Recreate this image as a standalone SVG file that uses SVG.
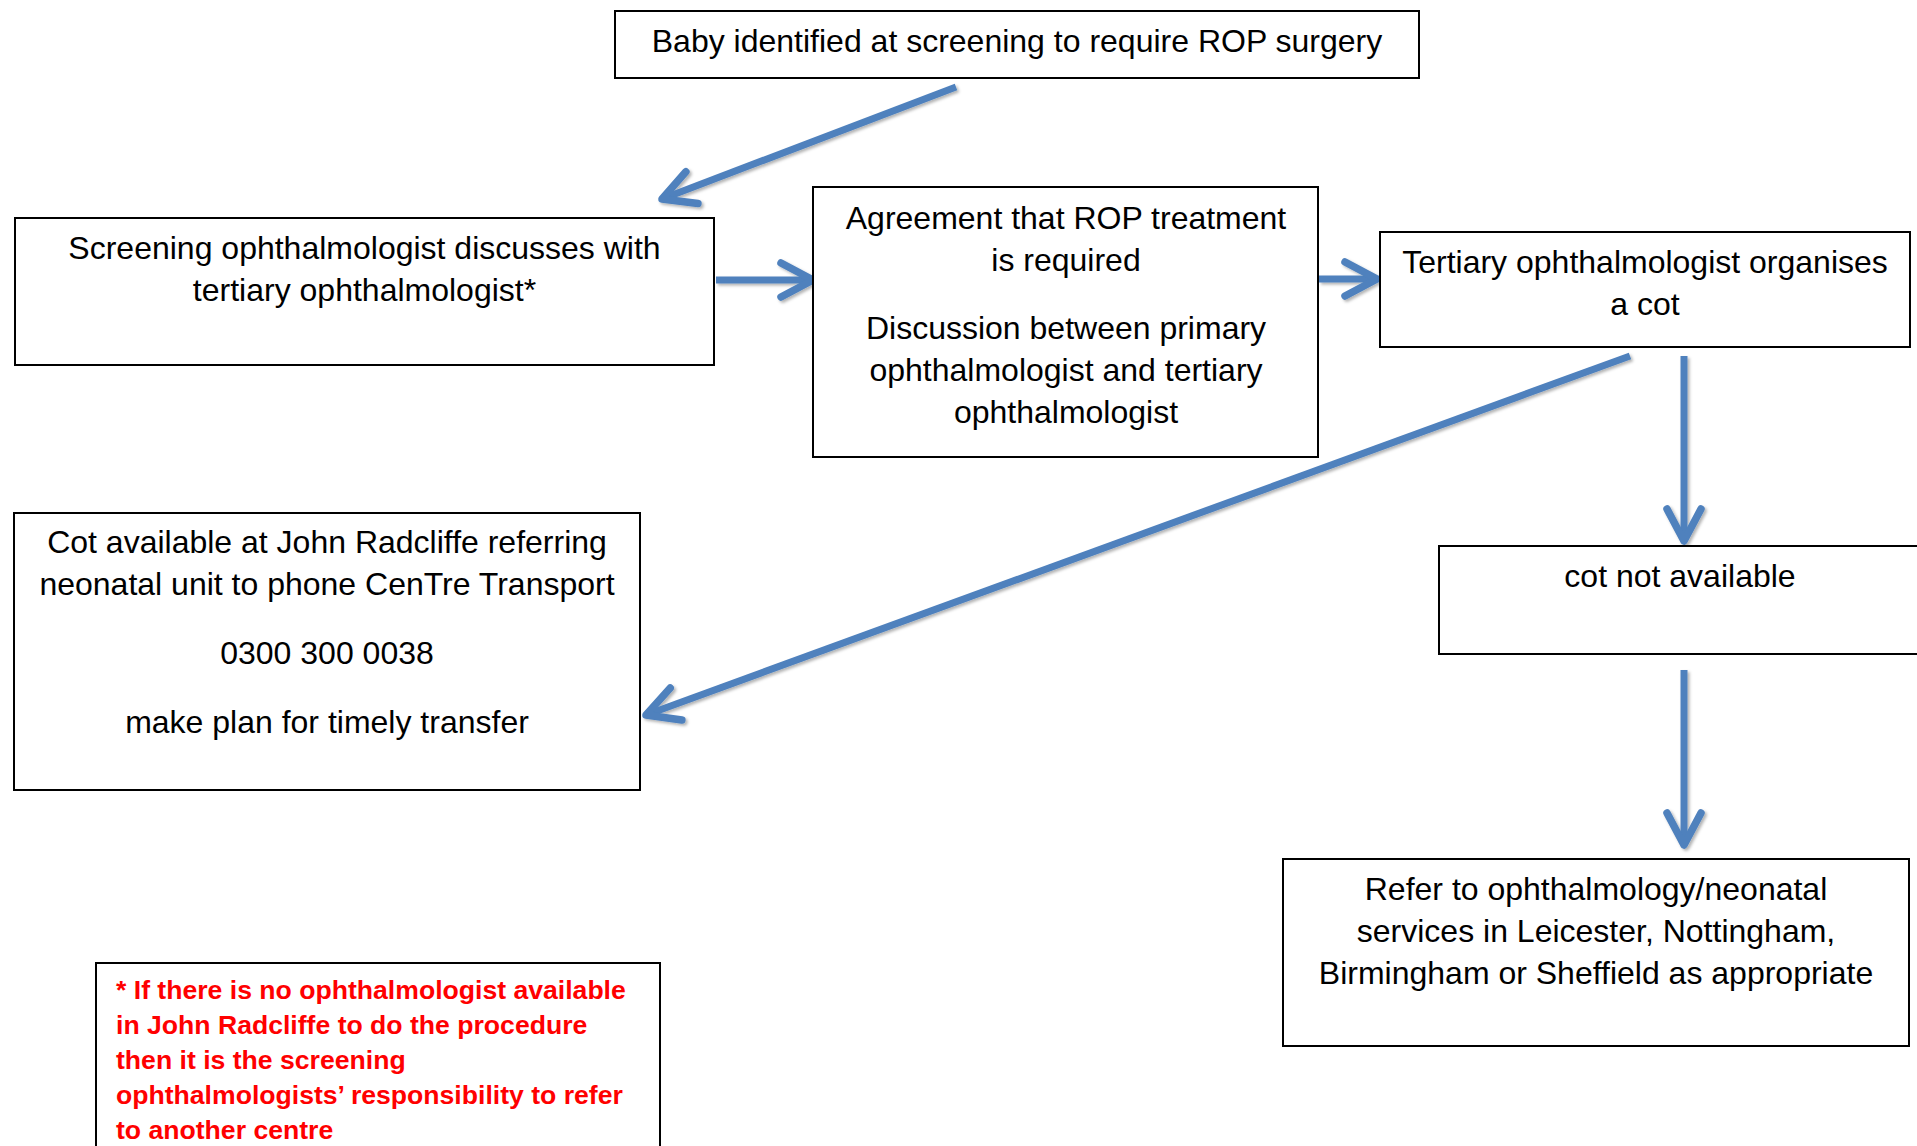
<svg xmlns="http://www.w3.org/2000/svg" width="1917" height="1146" viewBox="0 0 1917 1146">
<style>
.box{fill:#fff;stroke:#000;stroke-width:2}
.t{font-family:"Liberation Sans",Arial,sans-serif;font-size:32px;fill:#000;text-anchor:middle}
.r{font-family:"Liberation Sans",Arial,sans-serif;font-size:26.6px;font-weight:bold;fill:#ff0000}
.c{fill:none;stroke:#4f81bd;stroke-width:7;marker-end:url(#ah)}
</style>
<defs>
<marker id="ah" markerUnits="userSpaceOnUse" markerWidth="80" markerHeight="80" refX="0" refY="0" orient="auto" overflow="visible">
<path d="M -32 -17 L 0 0 L -32 17" fill="none" stroke="#4f81bd" stroke-width="7.5" stroke-linecap="round" stroke-linejoin="round"/>
</marker>
<filter id="sh" x="-10%" y="-10%" width="120%" height="120%">
<feDropShadow dx="2" dy="2" stdDeviation="1.5" flood-color="#000" flood-opacity="0.3"/>
</filter>
</defs>
<rect width="1917" height="1146" fill="#fff"/>
<g id="connectors" filter="url(#sh)">
<line class="c" x1="956" y1="87" x2="662" y2="199"/>
<line class="c" x1="716" y1="280" x2="813" y2="280"/>
<line class="c" x1="1319" y1="279" x2="1377" y2="279"/>
<line class="c" x1="1630" y1="356" x2="646" y2="715"/>
<line class="c" x1="1684" y1="356" x2="1684" y2="541"/>
<line class="c" x1="1684" y1="670" x2="1684" y2="845"/>
</g>
<g id="n-baby">
<rect class="box" x="615" y="11" width="804" height="67"/>
<text class="t" x="1017" y="52">Baby identified at screening to require ROP surgery</text>
</g>
<g id="n-screening">
<rect class="box" x="15" y="218" width="699" height="147"/>
<text class="t" x="364.5" y="259">Screening ophthalmologist discusses with</text>
<text class="t" x="364.5" y="301">tertiary ophthalmologist*</text>
</g>
<g id="n-agreement">
<rect class="box" x="813" y="187" width="505" height="270"/>
<text class="t" x="1066" y="229">Agreement that ROP treatment</text>
<text class="t" x="1066" y="271">is required</text>
<text class="t" x="1066" y="339">Discussion between primary</text>
<text class="t" x="1066" y="381">ophthalmologist and tertiary</text>
<text class="t" x="1066" y="423">ophthalmologist</text>
</g>
<g id="n-tertiary">
<rect class="box" x="1380" y="232" width="530" height="115"/>
<text class="t" x="1645" y="273">Tertiary ophthalmologist organises</text>
<text class="t" x="1645" y="315">a cot</text>
</g>
<g id="n-cot-available">
<rect class="box" x="14" y="513" width="626" height="277"/>
<text class="t" x="327" y="553">Cot available at John Radcliffe referring</text>
<text class="t" x="327" y="595">neonatal unit to phone CenTre Transport</text>
<text class="t" x="327" y="664">0300 300 0038</text>
<text class="t" x="327" y="733">make plan for timely transfer</text>
</g>
<g id="n-cot-not-available">
<rect class="box" x="1439" y="546" width="500" height="108"/>
<text class="t" x="1680" y="587">cot not available</text>
</g>
<g id="n-refer">
<rect class="box" x="1283" y="859" width="626" height="187"/>
<text class="t" x="1596" y="900">Refer to ophthalmology/neonatal</text>
<text class="t" x="1596" y="942">services in Leicester, Nottingham,</text>
<text class="t" x="1596" y="984">Birmingham or Sheffield as appropriate</text>
</g>
<g id="n-note">
<rect class="box" x="96" y="963" width="564" height="200"/>
<text class="r" x="116" y="999">* If there is no ophthalmologist available</text>
<text class="r" x="116" y="1034">in John Radcliffe to do the procedure</text>
<text class="r" x="116" y="1069">then it is the screening</text>
<text class="r" x="116" y="1104">ophthalmologists’ responsibility to refer</text>
<text class="r" x="116" y="1139">to another centre</text>
</g>
</svg>
